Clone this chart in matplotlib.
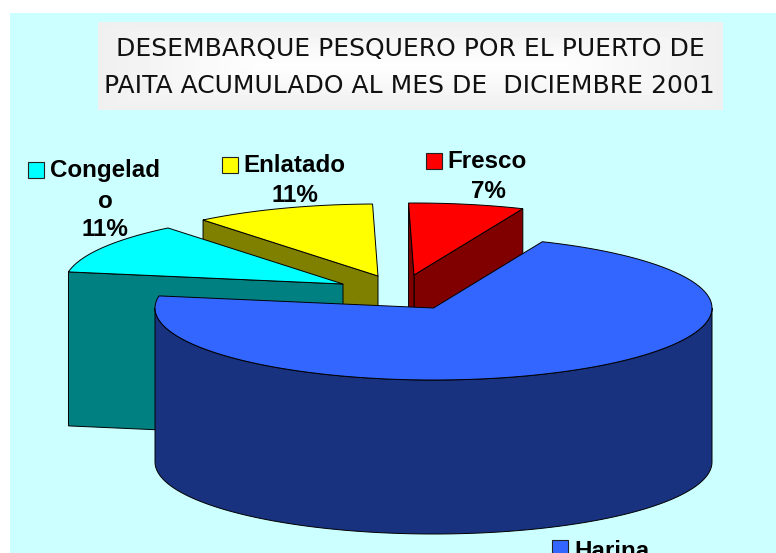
import numpy as np
import matplotlib
matplotlib.use('Agg')
import matplotlib.pyplot as plt
from matplotlib.patches import Polygon, Rectangle

plt.rcParams['font.family'] = ['Liberation Sans', 'DejaVu Sans']

# clockwise from the first slice, shares
categories = ['Harina', 'Congelado', 'Enlatado', 'Fresco']
shares = [71.3, 11.5, 10.5, 6.7]
percent_labels = ['71%', '11%', '11%', '7%']
top_colors = ['#3366FF', '#00FFFF', '#FFFF00', '#FF0000']
wall_colors = ['#19327F', '#008080', '#808000', '#800000']
title_lines = ['DESEMBARQUE PESQUERO POR EL PUERTO DE',
               'PAITA ACUMULADO AL MES DE  DICIEMBRE 2001']

first_angle = 23.0
cx, cy = 433.5, 308
rx, ry = 278.5, 72
depth = 154
# explosion of each slice, pixels
offsets = {'Harina': (0, 0), 'Congelado': (-90.5, -24), 'Enlatado': (-55.5, -32), 'Fresco': (-19.5, -33)}
draw_order = ['Enlatado', 'Congelado', 'Fresco', 'Harina']

ends = first_angle + np.cumsum(shares) * 3.6
starts = ends - np.array(shares) * 3.6

fig = plt.figure(figsize=(7.76, 5.53), dpi=100, facecolor='white')
ax = fig.add_axes([0, 0, 1, 1])
ax.set_xlim(0, 776)
ax.set_ylim(553, 0)
ax.axis('off')

ax.add_patch(Rectangle((10, 13), 766, 540, facecolor='#CCFFFF', edgecolor='none', zorder=0))

# title box, grey fading to white in the middle
nx, ny = 125, 18
gx = np.minimum(np.arange(nx), np.arange(nx)[::-1]) / (nx * 0.28)
gy = np.minimum(np.arange(ny), np.arange(ny)[::-1]) / (ny * 0.5)
fade = np.clip(np.minimum(gx[None, :], gy[:, None]), 0, 1)
ax.imshow(0.94 + 0.06 * fade, extent=(97.5, 722, 110, 22), cmap='gray', vmin=0, vmax=1,
          interpolation='bilinear', aspect='auto', zorder=1)
ax.set_xlim(0, 776)
ax.set_ylim(553, 0)

title_font = dict(family=['DejaVu Sans'], fontsize=18.0, ha='center', va='baseline',
                  color='#111111', zorder=2)
ax.text(410, 56, title_lines[0], **title_font)
ax.text(409.5, 93, title_lines[1], **title_font)


def arc(theta_deg, dx, dy):
    t = np.radians(theta_deg)
    return np.column_stack((cx + dx + rx * np.sin(t), cy + dy - ry * np.cos(t)))


def wall(a, b, color):
    quad = np.vstack((a, b, b + [0, depth], a + [0, depth]))
    ax.add_patch(Polygon(quad, closed=True, facecolor=color, edgecolor='black', linewidth=0.7, zorder=3))


for name in draw_order:
    i = categories.index(name)
    dx, dy = offsets[name]
    apex = np.array([cx + dx, cy + dy])
    theta = np.linspace(starts[i], ends[i], 120)
    rim = arc(theta, dx, dy)

    if name == 'Harina':
        front = np.linspace(90, 270, 120)
        upper = arc(front, dx, dy)
        lower = upper + [0, depth]
        ax.add_patch(Polygon(np.vstack((upper, lower[::-1])), closed=True,
                             facecolor=wall_colors[i], edgecolor='black', linewidth=0.7, zorder=3))
    else:
        # the cut face at the start of the slice, the one turned to the viewer
        wall(apex, rim[0] if name != 'Fresco' else rim[-1], wall_colors[i])
        if name == 'Fresco':
            wall(apex, rim[0], wall_colors[i])

    ax.add_patch(Polygon(np.vstack((apex, rim)), closed=True, facecolor=top_colors[i],
                         edgecolor='black', linewidth=0.7, zorder=3))

bold = dict(fontsize=17.4, fontweight='bold', color='black', ha='center', va='center', zorder=5)


def key(x, y, color):
    ax.add_patch(Rectangle((x, y), 16, 16, facecolor=color, edgecolor='#222222', linewidth=0.8, zorder=5))


key(28, 162, top_colors[1])
ax.text(105, 171, categories[1][:-1], **bold)
ax.text(105, 201, categories[1][-1], **bold)
ax.text(105, 229, percent_labels[1], **bold)

key(222, 157, top_colors[2])
ax.text(294, 165, categories[2], **bold)
ax.text(295, 195, percent_labels[2], **bold)

key(426, 153, top_colors[3])
ax.text(487, 161, categories[3], **bold)
ax.text(488, 191, percent_labels[3], **bold)

key(552, 540, top_colors[0])
ax.text(612, 551, categories[0], **bold)

fig.savefig('out.png', dpi=100)
